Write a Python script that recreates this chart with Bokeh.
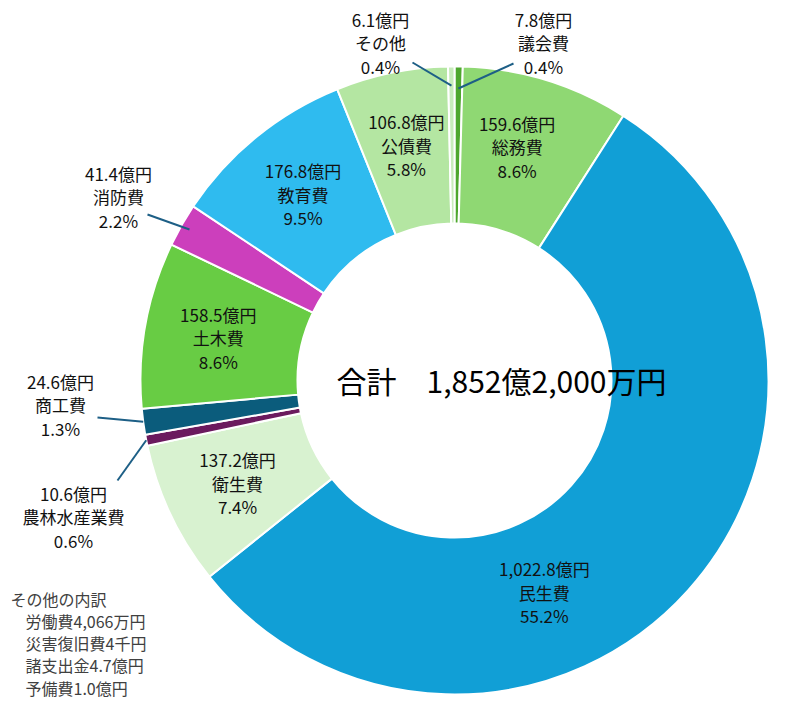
import math
from bokeh.plotting import figure
from bokeh.models import Range1d, ColumnDataSource
from bokeh.core.properties import value
from bokeh.embed import file_html
from bokeh.resources import INLINE

# data (億円), clockwise from 12 o'clock
names = ["議会費", "総務費", "民生費", "衛生費", "農林水産業費", "商工費",
         "土木費", "消防費", "教育費", "公債費", "その他"]
amounts = [7.8, 159.6, 1022.8, 137.2, 10.6, 24.6, 158.5, 41.4, 176.8, 106.8, 6.1]
percents = ["0.4%", "8.6%", "55.2%", "7.4%", "0.6%", "1.3%",
            "8.6%", "2.2%", "9.5%", "5.8%", "0.4%"]
colors = ["#4ea72e", "#8fd873", "#119fd6", "#d8f2d0", "#6b1a5e", "#0b5c7c",
          "#68cc44", "#cc3fbc", "#2fbbef", "#b4e6a2", "#c8ecbb"]
total_label = "合計　1,852億2,000万円"
note_lines = ["その他の内訳", "労働費4,066万円", "災害復旧費4千円",
              "諸支出金4.7億円", "予備費1.0億円"]

FONT = "Noto Sans CJK JP"
W, H = 798, 703
CX, CY = 454, 380          # page pixel of the donut centre
R_OUT, R_IN = 314, 157
LABEL_R = 240

# labels that sit outside the ring: label centre, leader start (page px), leader radius
outside = {
    "その他": (380, 42, 412, 62, 295),
    "議会費": (543, 42, 513, 63, 292),
    "消防費": (118, 196, 147, 214, 305),
    "商工費": (60, 404, 97, 417, 314),
    "農林水産業費": (73, 516, 117, 480, 314),
}
# inside labels placed off their mid angle: (degrees from top, radius)
label_override = {"民生費": (157.0, 230), "総務費": (15.0, 242)}


def dx(px):
    return px - CX


def dy(py):
    return CY - py


total = sum(amounts)
starts, ends, mids = [], [], []
cum = 0.0
for a in amounts:
    f0 = cum / total
    cum += a
    f1 = cum / total
    # bokeh angles: counter-clockwise from +x; we go clockwise from the top
    starts.append(math.pi / 2 - f1 * 2 * math.pi)
    ends.append(math.pi / 2 - f0 * 2 * math.pi)
    mids.append((f0 + f1) / 2 * 360.0)  # degrees clockwise from top

src = ColumnDataSource(dict(name=names, start=starts, end=ends, color=colors))

p = figure(width=W, height=H, output_backend="svg", toolbar_location=None,
           x_range=Range1d(-CX, W - CX), y_range=Range1d(CY - H, CY),
           min_border=0)
p.axis.visible = False
p.grid.visible = False
p.outline_line_color = None
p.background_fill_color = "white"

p.annular_wedge(x=0, y=0, inner_radius=R_IN, outer_radius=R_OUT,
                start_angle="start", end_angle="end", fill_color="color",
                line_color="white", line_width=2, source=src)

lx, ly, lt = [], [], []
for i, n in enumerate(names):
    rows = [f"{amounts[i]:,.1f}億円", n, percents[i]]
    if n in outside:
        tx, ty, sx, sy, rr = outside[n]
        cx_, cy_ = dx(tx), dy(ty)
        ang = math.radians(mids[i])
        ex, ey = rr * math.sin(ang), rr * math.cos(ang)
        p.line([dx(sx), ex], [dy(sy), ey], line_color="#1d5f86", line_width=2)
    else:
        a_deg, rr = label_override.get(n, (mids[i], LABEL_R))
        ang = math.radians(a_deg)
        cx_, cy_ = rr * math.sin(ang), rr * math.cos(ang)
    for k, t in enumerate(rows):
        lx.append(cx_)
        ly.append(cy_ + (1 - k) * 23.5)
        lt.append(t)

p.text(x=lx, y=ly, text=lt, text_font=value(FONT), text_font_size="17px",
       text_color="#111111", text_align="center", text_baseline="middle")

p.text(x=[dx(501)], y=[dy(379)], text=[total_label], text_font=value(FONT),
       text_font_size="30px", text_color="#000000", text_align="center",
       text_baseline="middle")

nx = [dx(10)] + [dx(25)] * (len(note_lines) - 1)
ny = [dy(598 + 22.3 * k) for k in range(len(note_lines))]
p.text(x=nx, y=ny, text=note_lines, text_font=value(FONT), text_font_size="16px",
       text_color="#404040", text_align="left", text_baseline="middle")

open("out.html", "w").write(file_html(p, INLINE))
